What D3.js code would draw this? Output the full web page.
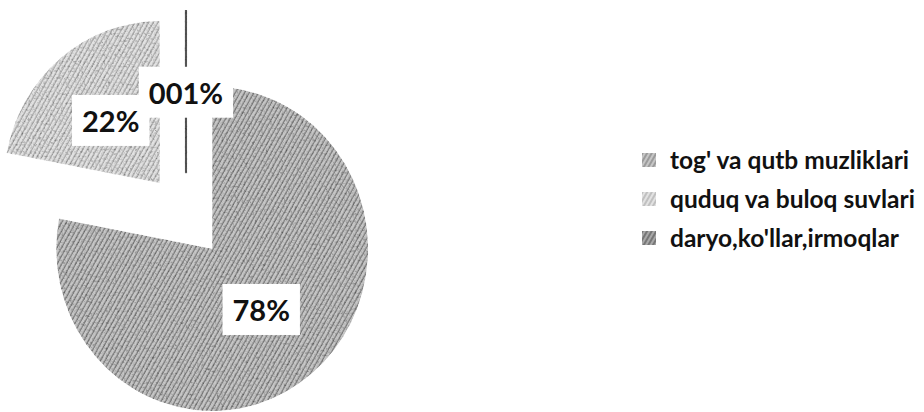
<!DOCTYPE html>
<html>
<head>
  <meta charset="utf-8">
  <script src="https://cdn.jsdelivr.net/npm/d3@7/dist/d3.min.js"></script>
  <style>
    body { margin: 0; background: #fff; }
    text { font-family: Lato, "Open Sans", sans-serif; font-weight: bold; }
  </style>
</head>
<body>
<svg width="924" height="412"></svg>
<script>
  var categories = ["tog' va qutb muzliklari", "quduq va buloq suvlari", "daryo,ko'llar,irmoqlar"];
  var values = [78, 22, 0.01];
  var labels = ["78%", "22%", "001%"];

  var svg = d3.select("svg"),
      cx = 186, cy = 216,
      r = 156, sy = 1.04,      // scan is a bit stretched vertically
      explode = 41,
      labelR = 77;

  var defs = svg.append("defs");

  // hatch textures, a bit like the scanned print
  function hatch(id, base, ink) {
    var p = defs.append("pattern")
      .attr("id", id)
      .attr("patternUnits", "userSpaceOnUse")
      .attr("width", 4).attr("height", 4)
      .attr("patternTransform", "rotate(30)");
    p.append("rect").attr("width", 4).attr("height", 4).attr("fill", base);
    p.append("line").attr("x1", 1).attr("y1", 0).attr("x2", 1).attr("y2", 4)
      .attr("stroke", ink).attr("stroke-width", 1.2);
  }
  hatch("tex0", "#c6c6c6", "#7e7e7e");
  hatch("tex1", "#e2e2e2", "#aaaaaa");
  hatch("tex2", "#a8a8a8", "#555");

  var f = defs.append("filter").attr("id", "grain");
  f.append("feTurbulence").attr("type", "fractalNoise")
    .attr("baseFrequency", 0.45).attr("numOctaves", 3).attr("seed", 4).attr("result", "n");
  f.append("feColorMatrix").attr("in", "n").attr("type", "matrix")
    .attr("values", "0.7 0.7 0.7 0 -0.1  0.7 0.7 0.7 0 -0.1  0.7 0.7 0.7 0 -0.1  0 0 0 0 1")
    .attr("result", "g");
  f.append("feBlend").attr("in", "SourceGraphic").attr("in2", "g").attr("mode", "multiply").attr("result", "b");
  f.append("feComposite").attr("in", "b").attr("in2", "SourceGraphic").attr("operator", "in");

  var pie = d3.pie().sort(null).value(function (d) { return d; });
  var arcs = pie(values);
  var arc = d3.arc().innerRadius(0).outerRadius(r);

  function mid(d) { return (d.startAngle + d.endAngle) / 2; }

  var g = svg.append("g")
    .attr("transform", "translate(" + cx + "," + cy + ") scale(1," + sy + ")")
    .attr("filter", "url(#grain)");

  g.selectAll("path")
    .data(arcs)
    .enter().append("path")
      .attr("transform", function (d) {
        var a = mid(d);
        return "translate(" + explode * Math.sin(a) + "," + (-explode * Math.cos(a)) + ")";
      })
      .attr("d", arc)
      .attr("fill", function (d, i) { return "url(#tex" + i + ")"; })
      .attr("stroke", function (d, i) { return i === 2 ? "#555" : "none"; })
      .attr("stroke-width", 2.5);

  // data labels in white boxes
  var lab = svg.selectAll("g.lab")
    .data(arcs)
    .enter().append("g")
      .attr("class", "lab")
      .attr("transform", function (d) {
        var a = mid(d), k = explode + labelR;
        return "translate(" + (cx + k * Math.sin(a)) + "," + (cy - k * Math.cos(a) * sy) + ")";
      });

  lab.append("rect").attr("fill", "#fff");
  lab.append("text")
    .attr("text-anchor", "middle")
    .attr("dy", "0.36em")
    .attr("font-size", 29)
    .attr("fill", "#111")
    .text(function (d, i) { return labels[i]; });
  lab.each(function () {
    var b = d3.select(this).select("text").node().getBBox();
    d3.select(this).select("rect")
      .attr("x", b.x - 10).attr("y", b.y - 8)
      .attr("width", b.width + 20).attr("height", b.height + 16);
  });

  // legend
  var ly = d3.scalePoint().domain(categories).range([160, 238]);
  var leg = svg.selectAll("g.leg")
    .data(categories)
    .enter().append("g")
      .attr("class", "leg")
      .attr("transform", function (d) { return "translate(642," + ly(d) + ")"; });
  leg.append("rect")
    .attr("x", 0).attr("y", -7).attr("width", 14).attr("height", 14)
    .attr("fill", function (d, i) { return "url(#tex" + i + ")"; });
  leg.append("text")
    .attr("x", 28).attr("dy", "0.35em")
    .attr("font-size", 24.5)
    .attr("fill", "#111")
    .text(function (d) { return d; });
</script>
</body>
</html>
